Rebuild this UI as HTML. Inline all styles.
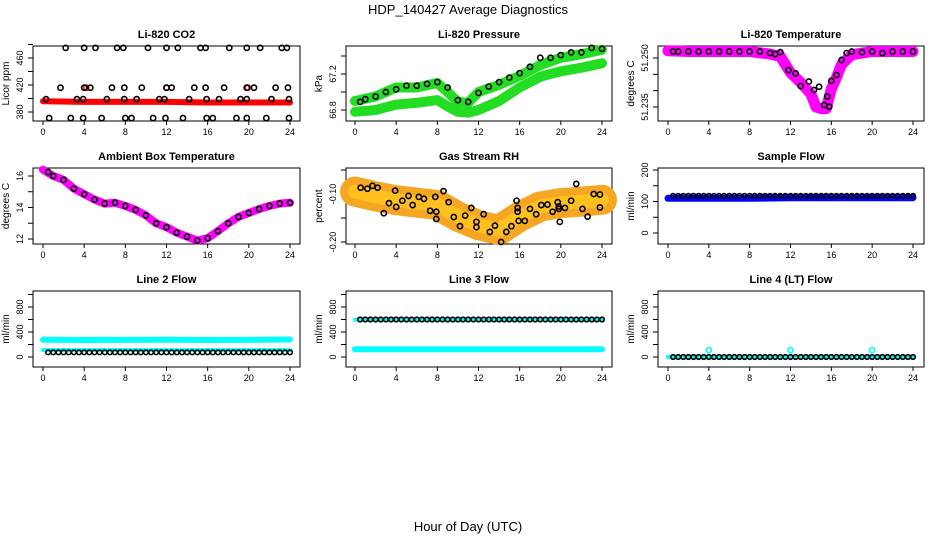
<!DOCTYPE html>
<html><head><meta charset="utf-8">
<style>
html,body{margin:0;padding:0;background:#fff;}
svg{display:block;font-family:"Liberation Sans",sans-serif;}
</style></head>
<body>
<svg id="chart" width="936" height="540" viewBox="0 0 936 540">
<text x="468" y="14" text-anchor="middle" font-size="13">HDP_140427  Average Diagnostics</text>
<text x="468" y="531" text-anchor="middle" font-size="13">Hour of Day (UTC)</text>
</svg>
<script>
// ---- data ----
const xTicks = [0,4,8,12,16,20,24];
// CO2
const co2Hours = [2.2,4.0,5.1,7.2,7.8,10.2,12.0,13.1,15.3,15.8,18.1,19.8,21.1,23.2,23.7,
 1.7,4.0,4.6,6.7,7.9,9.6,12.0,12.5,14.7,15.8,17.6,19.8,20.5,22.6,23.8,
 0.3,3.3,3.9,6.2,7.9,9.1,11.3,11.8,14.2,15.9,17.1,19.2,19.8,22.2,23.9,
 0.6,2.7,3.9,5.7,8.0,8.6,10.7,11.9,13.6,15.9,16.5,18.8,19.8,21.7,23.9];
const co2Vals = [475,475,475,475,475,475,475,475,475,475,475,475,475,475,475,
 416,416,416,416,416,416,416,416,416,416,416,416,416,416,416,
 399,399,399,399,399,399,399,399,399,399,399,399,399,399,399,
 371,371,371,371,371,371,371,371,371,371,371,371,371,371,371];
const co2RedHours = [0,4,8,12,16,20,24];
const co2RedVals = [396,395,395,395,394,394,394];
const co2RedDotHours = [4.2,12.0,19.9];
const co2RedDotVals = [416,416,416];
// Pressure
const presHours = [0.5,1,2,3,4,5,6,7,8,9,10,11,12,13,14,15,16,17,18,19,20,21,22,23,24];
const presVals = [66.89,66.92,66.95,67.0,67.03,67.07,67.07,67.09,67.11,67.05,66.91,66.89,66.99,67.06,67.11,67.16,67.21,67.28,67.38,67.38,67.41,67.44,67.44,67.49,67.48];
const presBandHours = [0,2,4,6,8,9,10,11,12,14,16,18,20,22,24];
const presUpper = [66.9,66.95,67.05,67.05,67.1,67.0,66.89,66.88,67.0,67.08,67.18,67.3,67.38,67.42,67.47];
const presLower = [66.78,66.8,66.86,66.88,66.91,66.84,66.78,66.77,66.8,66.9,67.05,67.17,67.23,67.27,67.32];
// Li-820 temperature
const tempHours = [0.5,1,2,3,4,5,6,7,8,9,10,10.5,11,11.8,12.5,13,13.8,14.3,14.8,15.3,15.6,15.8,16,16.5,17,17.5,18,19,20,21,22,23,24];
const tempVals = [51.252,51.252,51.252,51.252,51.252,51.252,51.252,51.252,51.252,51.252,51.2515,51.2512,51.2518,51.2463,51.2453,51.2414,51.2428,51.2402,51.2412,51.2356,51.2382,51.2351,51.243,51.2448,51.2494,51.2515,51.252,51.2518,51.252,51.2515,51.252,51.252,51.252];
const tempBandHours = [0,2,4,6,8,10,11,12,13,14,14.5,15,15.5,16,16.5,17,18,20,22,24];
const tempBand = [51.2522,51.252,51.252,51.252,51.252,51.2512,51.2505,51.2455,51.2425,51.239,51.235,51.2345,51.2345,51.2405,51.244,51.248,51.251,51.252,51.252,51.252];
// Ambient
const ambHours = [0.5,1,2,3,4,5,6,7,8,9,10,11,12,13,14,15,16,17,18,19,20,21,22,23,24];
const ambVals = [16.25,16.0,15.75,15.2,14.85,14.5,14.25,14.3,14.1,13.85,13.5,13.0,12.75,12.4,12.15,11.9,12.05,12.5,13.0,13.4,13.65,13.9,14.1,14.25,14.3];
const ambBandHours = [0,1,2,3,4,5,6,7,8,9,10,11,12,13,14,15,16,17,18,19,20,21,22,23,24];
const ambBand = [16.4,16.0,15.75,15.2,14.85,14.5,14.25,14.3,14.1,13.85,13.5,13.0,12.75,12.4,12.15,11.9,12.05,12.5,13.0,13.4,13.65,13.9,14.1,14.25,14.3];
// RH
const rhHours = [0.55,1.2,1.7,2.2,2.8,3.3,3.9,4.0,4.6,5.2,5.6,6.2,6.7,7.3,7.8,7.9,7.9,8.6,9.1,9.6,10.2,10.7,11.3,11.8,11.8,12.5,13.1,13.6,14.2,14.7,15.2,15.7,15.8,15.8,15.9,16.5,17.0,17.6,18.1,18.7,19.2,19.7,19.8,19.8,19.9,20.4,21.0,21.5,22.1,22.6,23.2,23.8,23.8];
const rhVals = [-0.087,-0.089,-0.083,-0.087,-0.14,-0.119,-0.093,-0.127,-0.114,-0.104,-0.123,-0.106,-0.110,-0.135,-0.106,-0.137,-0.152,-0.094,-0.117,-0.148,-0.167,-0.145,-0.129,-0.158,-0.169,-0.142,-0.179,-0.166,-0.2,-0.179,-0.167,-0.114,-0.137,-0.129,-0.156,-0.156,-0.131,-0.142,-0.123,-0.122,-0.137,-0.117,-0.126,-0.131,-0.158,-0.129,-0.114,-0.079,-0.131,-0.147,-0.100,-0.128,-0.101];
const rhBandHours = [0,2,4,6,8,10,12,14,16,18,20,22,24];
const rhBand = [-0.095,-0.105,-0.113,-0.118,-0.123,-0.147,-0.165,-0.175,-0.147,-0.126,-0.119,-0.116,-0.112];
// flows
const flowHours = [0.5,1,1.5,2,2.5,3,3.5,4,4.5,5,5.5,6,6.5,7,7.5,8,8.5,9,9.5,10,10.5,11,11.5,12,12.5,13,13.5,14,14.5,15,15.5,16,16.5,17,17.5,18,18.5,19,19.5,20,20.5,21,21.5,22,22.5,23,23.5,24];
const sampleVals = [118,118,118,118,118,118,118,118,118,118,118,118,118,118,118,118,118,118,118,118,118,118,118,118,118,118,118,118,118,118,118,118,118,118,118,118,118,118,118,118,118,118,118,118,118,118,118,118];
const line2Vals = [75,75,75,75,75,75,75,75,75,75,75,75,75,75,75,75,75,75,75,75,75,75,75,75,75,75,75,75,75,75,75,75,75,75,75,75,75,75,75,75,75,75,75,75,75,75,75,75];
const line3Vals = [600,600,600,600,600,600,600,600,600,600,600,600,600,600,600,600,600,600,600,600,600,600,600,600,600,600,600,600,600,600,600,600,600,600,600,600,600,600,600,600,600,600,600,600,600,600,600,600];
const line4Vals = [0,0,0,0,0,0,0,0,0,0,0,0,0,0,0,0,0,0,0,0,0,0,0,0,0,0,0,0,0,0,0,0,0,0,0,0,0,0,0,0,0,0,0,0,0,0,0,0];
const flowBandHours = [0,4,8,12,16,20,24];
const sampleBand = [110,110,110,112,112,112,112];
const line2Upper = [275,272,274,276,272,274,280];
const line2Lower = [110,110,110,110,110,110,110];
const line3Upper = [595,595,595,595,595,595,595];
const line3Lower = [125,125,125,125,125,125,125];
const line4Band = [0,0,0,0,0,0,0];
const line4SpikeHours = [4,12,20];
const line4SpikeVals = [110,110,110];

// ---- drawing ----
const svg = document.getElementById('chart');
const NS = 'http://www.w3.org/2000/svg';
function mk(tag, attrs, parent){
  const e = document.createElementNS(NS, tag);
  for (const k in attrs) e.setAttribute(k, attrs[k]);
  (parent||svg).appendChild(e);
  return e;
}
const colL=[33,346,658], colR=[300,612,924], colX0=[43,355,668], colX24=[290,602,913];
const rowT=[46,168,291], rowB=[121,244,367];

function panel(col,row,title,ylab,vA,yA,vB,yB,ticks,labels,decimals,slug){
  const g = mk('g',{});
  
  
  const xs = h => colX0[col] + (colX24[col]-colX0[col])*h/24;
  const ys = v => yA + (v-vA)*(yB-yA)/(vB-vA);
  const L=colL[col], R=colR[col], T=rowT[row], B=rowB[row];
  const box = mk('rect',{x:L,y:T,width:R-L,height:B-T,fill:'none',stroke:'#000','stroke-width':1},g);
  
  
  const t = mk('text',{x:(L+R)/2,y:T-8,'text-anchor':'middle','font-size':11,'font-weight':'bold'},g);
  t.textContent = title;
  
  
  xTicks.forEach(h=>{
    mk('line',{x1:xs(h),x2:xs(h),y1:B,y2:B+4,stroke:'#000'},g);
    const tl = mk('text',{x:xs(h),y:B+14,'text-anchor':'middle','font-size':9},g);
    tl.textContent = h;
    
    
  });
  ticks.forEach(v=>{
    mk('line',{x1:L-5,x2:L,y1:ys(v),y2:ys(v),stroke:'#000'},g);
  });
  labels.forEach(v=>{
    const yy = ys(v);
    const tl = mk('text',{x:L-10,y:yy,'text-anchor':'middle','font-size':9,transform:`rotate(-90 ${L-10} ${yy})`},g);
    tl.textContent = v.toFixed(decimals);
    
    
  });
  const yl = mk('text',{x:L-24,y:(T+B)/2,'text-anchor':'middle','font-size':10,transform:`rotate(-90 ${L-24} ${(T+B)/2})`},g);
  yl.textContent = ylab;
  
  
  return {g,xs,ys};
}
function band(p,hours,vals,color,width,name){
  const pts = hours.map((h,i)=>p.xs(h).toFixed(1)+','+p.ys(vals[i]).toFixed(1)).join(' ');
  const e = mk('polyline',{points:pts,fill:'none',stroke:color,'stroke-width':width,'stroke-linejoin':'round','stroke-linecap':'round'},p.g);
  
  
}
function pts(p,hours,vals,color,name,r){
  hours.forEach((h,i)=>{
    const c = mk('circle',{cx:p.xs(h),cy:p.ys(vals[i]),r:r||2.6,fill:'none',stroke:color,'stroke-width':1.6},p.g);
    
    
  });
}

let p = panel(0,0,'Li-820 CO2','Licor ppm',380,112,460,58,[380,400,420,440,460,480],[380,420,460],0,'co2');
band(p,co2RedHours,co2RedVals,'#ff0000',6,'co2-red-band');
pts(p,co2RedDotHours,co2RedDotVals,'#ff0000','co2-red-point');
pts(p,co2Hours,co2Vals,'#000','co2-point');

p = panel(1,0,'Li-820 Pressure','kPa',66.8,110,67.2,74,[66.8,67.0,67.2,67.4],[66.8,67.2],1,'pressure');
band(p,presBandHours,presUpper,'#22dd22',10,'pressure-upper-band');
band(p,presBandHours,presLower,'#22dd22',10,'pressure-lower-band');
pts(p,presHours,presVals,'#000','pressure-point');

p = panel(2,0,'Li-820 Temperature','degrees C',51.235,107,51.250,58,[51.235,51.240,51.245,51.250],[51.235,51.250],3,'li820-temp');
band(p,tempBandHours,tempBand,'#ff00ff',11,'li820-temp-band');
pts(p,tempHours,tempVals,'#000','li820-temp-point');

p = panel(0,1,'Ambient Box Temperature','degrees C',12,239,16,176,[12,13,14,15,16],[12,14,16],0,'ambient');
band(p,ambBandHours,ambBand,'#ff00ff',8,'ambient-band');
pts(p,ambHours,ambVals,'#000','ambient-point');

p = panel(1,1,'Gas Stream RH','percent',-0.2,242,-0.1,194,[-0.2,-0.15,-0.1,-0.05],[-0.2,-0.1],2,'rh');
band(p,rhBandHours,rhBand,'#f5a623',30,'rh-band');
band(p,rhBandHours,rhBand,'#ffc020',14,'rh-band-core');
pts(p,rhHours,rhVals,'#000','rh-point');

p = panel(2,1,'Sample Flow','ml/min',0,233,200,170,[0,50,100,150,200],[0,100,200],0,'sample-flow');
band(p,flowBandHours,sampleBand,'#0000ff',7,'sample-flow-band');
pts(p,flowHours,sampleVals,'#000','sample-flow-point',2.3);

p = panel(0,2,'Line 2 Flow','ml/min',0,357,800,307,[0,200,400,600,800,1000],[0,400,800],0,'line2-flow');
band(p,flowBandHours,line2Upper,'#00ffff',6,'line2-upper-band');
band(p,flowBandHours,line2Lower,'#00ffff',4,'line2-lower-band');
pts(p,flowHours,line2Vals,'#000','line2-point',2.3);

p = panel(1,2,'Line 3 Flow','ml/min',0,357,800,307,[0,200,400,600,800,1000],[0,400,800],0,'line3-flow');
band(p,flowBandHours,line3Upper,'#00ffff',4,'line3-upper-band');
band(p,flowBandHours,line3Lower,'#00ffff',6,'line3-lower-band');
pts(p,flowHours,line3Vals,'#000','line3-point',2.3);

p = panel(2,2,'Line 4 (LT) Flow','ml/min',0,357,800,307,[0,200,400,600,800,1000],[0,400,800],0,'line4-flow');
band(p,flowBandHours,line4Band,'#00ffff',4,'line4-band');
pts(p,line4SpikeHours,line4SpikeVals,'#00ffff','line4-spike-point');
pts(p,flowHours,line4Vals,'#000','line4-point',2.3);
</script>
</body></html>
